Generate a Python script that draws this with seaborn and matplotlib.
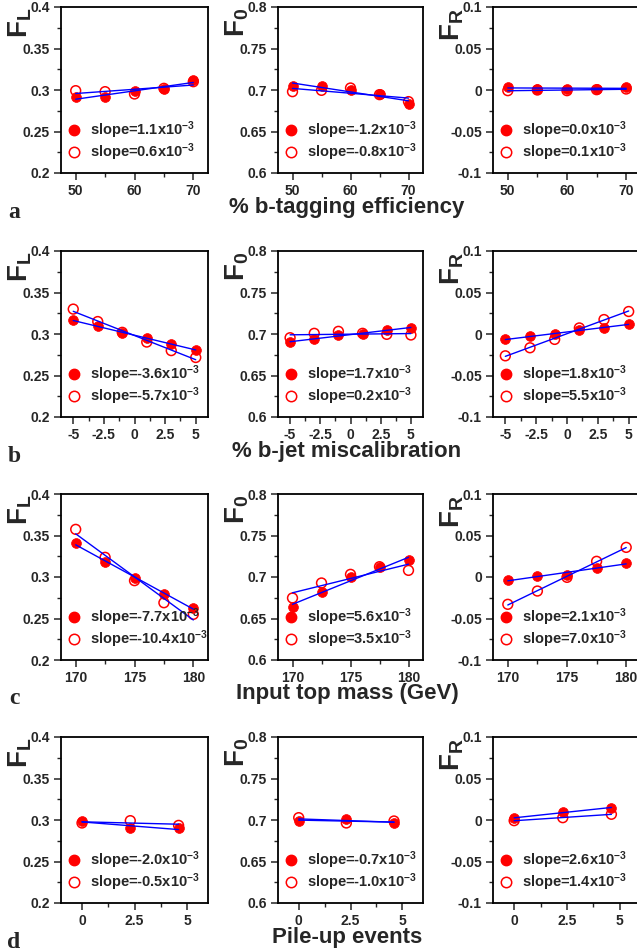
import numpy as np
import matplotlib
matplotlib.use("Agg")
import matplotlib.pyplot as plt
from matplotlib.lines import Line2D
from matplotlib.ticker import MultipleLocator, FuncFormatter
import seaborn as sns

sns.set_style("ticks")
plt.rcParams['font.family'] = ['Liberation Sans', 'DejaVu Sans']
plt.rcParams['mathtext.fontset'] = 'custom'
plt.rcParams['mathtext.rm'] = 'Liberation Sans:bold'
plt.rcParams['mathtext.bf'] = 'Liberation Sans:bold'
plt.rcParams['mathtext.it'] = 'Liberation Sans:bold'

# ---------------- data ----------------
x_a = [50, 55, 60, 65, 70]
FL_a_full = [0.2912, 0.2920, 0.2988, 0.3010, 0.3120]
FL_a_open = [0.2992, 0.2980, 0.2952, 0.3020, 0.3100]
F0_a_full = [0.7052, 0.7050, 0.6996, 0.6956, 0.6831]
F0_a_open = [0.6980, 0.6996, 0.7024, 0.6944, 0.6860]
FR_a_full = [0.0036, 0.0016, 0.0016, 0.0012, 0.0032]
FR_a_open = [-0.0008, 0.0000, -0.0008, 0.0004, 0.0012]

x_b = [-5, -3, -1, 1, 3, 5]
FL_b_full = [0.3166, 0.3093, 0.3012, 0.2951, 0.2879, 0.2810]
FL_b_open = [0.3300, 0.3150, 0.3020, 0.2903, 0.2800, 0.2717]
F0_b_full = [0.6903, 0.6940, 0.6988, 0.7000, 0.7053, 0.7073]
F0_b_open = [0.6955, 0.7008, 0.7032, 0.7008, 0.6996, 0.6988]
FR_b_full = [-0.0065, -0.0028, 0.0000, 0.0045, 0.0073, 0.0121]
FR_b_open = [-0.0263, -0.0166, -0.0065, 0.0073, 0.0174, 0.0271]

x_c = [170, 172.5, 175, 177.5, 180]
FL_c_full = [0.3406, 0.3180, 0.2992, 0.2795, 0.2630]
FL_c_open = [0.3574, 0.3237, 0.2956, 0.2690, 0.2550]
F0_c_full = [0.6643, 0.6815, 0.6996, 0.7116, 0.7200]
F0_c_open = [0.6747, 0.6928, 0.7032, 0.7124, 0.7080]
FR_c_full = [-0.0036, 0.0016, 0.0020, 0.0108, 0.0173]
FR_c_open = [-0.0329, -0.0169, -0.0004, 0.0189, 0.0357]

x_d = [0, 2.3, 4.6]
FL_d_full = [0.2992, 0.2900, 0.2900]
FL_d_open = [0.2964, 0.2992, 0.2935]
F0_d_full = [0.6988, 0.7008, 0.6964]
F0_d_open = [0.7028, 0.6964, 0.6988]
FR_d_full = [0.0020, 0.0101, 0.0145]
FR_d_open = [-0.0008, 0.0028, 0.0069]

slopes_full = [["1.1", "-1.2", "0.0"], ["-3.6", "1.7", "1.8"],
               ["-7.7", "5.6", "2.1"], ["-2.0", "-0.7", "2.6"]]
slopes_open = [["0.6", "-0.8", "0.1"], ["-5.7", "0.2", "5.5"],
               ["-10.4", "3.5", "7.0"], ["-0.5", "-1.0", "1.4"]]

row_letters = ["a", "b", "c", "d"]
row_xlabels = ["% b-tagging efficiency", "% b-jet miscalibration",
               "Input top mass (GeV)", "Pile-up events"]
ylabels = [r"$\mathbf{F}_{\mathbf{L}}$", r"$\mathbf{F}_{\mathbf{0}}$", r"$\mathbf{F}_{\mathbf{R}}$"]
ylims = [(0.2, 0.4), (0.6, 0.8), (-0.1, 0.1)]

rows = [
    (x_a, [(FL_a_full, FL_a_open), (F0_a_full, F0_a_open), (FR_a_full, FR_a_open)]),
    (x_b, [(FL_b_full, FL_b_open), (F0_b_full, F0_b_open), (FR_b_full, FR_b_open)]),
    (x_c, [(FL_c_full, FL_c_open), (F0_c_full, F0_c_open), (FR_c_full, FR_c_open)]),
    (x_d, [(FL_d_full, FL_d_open), (F0_d_full, F0_d_open), (FR_d_full, FR_d_open)]),
]
xlims = [(47.5, 72.5), (-6, 6), (168.75, 181.25), (-1, 6)]
xmajor = [10, 2.5, 5, 2.5]
xminor = [5, 1.25, 2.5, 1.25]

# ---------------- layout (pixels) ----------------
W, H = 637, 952
fig = plt.figure(figsize=(W / 100, H / 100), dpi=100)

col_left = [61, 278, 493]
col_w = [147, 145, 148]
row_top = [7, 251, 494, 737]
row_h = 166

def fmt(v, pos):
    s = "%g" % round(v, 4)
    if s == "-0":
        s = "0"
    return s

for r in range(4):
    xs, panels = rows[r]
    for c in range(3):
        l = col_left[c] / W
        b = 1 - (row_top[r] + row_h) / H
        ax = fig.add_axes([l, b, col_w[c] / W, row_h / H])
        yf, yo = panels[c]
        sns.scatterplot(x=xs, y=yf, ax=ax, s=50, color='red', edgecolor='red',
                        linewidth=0.5, zorder=3)
        sns.scatterplot(x=xs, y=yo, ax=ax, s=50, marker='o', facecolor='none',
                        edgecolor='red', linewidth=1.1, zorder=3)
        sns.regplot(x=np.array(xs), y=np.array(yf), ax=ax, scatter=False, ci=None,
                    color='blue', line_kws={'lw': 1.0, 'zorder': 4}, truncate=True)
        sns.regplot(x=np.array(xs), y=np.array(yo), ax=ax, scatter=False, ci=None,
                    color='blue', line_kws={'lw': 1.0, 'zorder': 4}, truncate=True)
        ax.set_xlim(*xlims[r])
        ax.set_ylim(*ylims[c])
        ax.set_xlabel("")
        ax.set_ylabel("")
        ax.xaxis.set_major_locator(MultipleLocator(xmajor[r]))
        ax.xaxis.set_minor_locator(MultipleLocator(xminor[r]))
        ax.yaxis.set_major_locator(MultipleLocator(0.05))
        ax.yaxis.set_minor_locator(MultipleLocator(0.025))
        ax.xaxis.set_major_formatter(FuncFormatter(fmt))
        ax.yaxis.set_major_formatter(FuncFormatter(fmt))
        for sp in ax.spines.values():
            sp.set_visible(True)
            sp.set_linewidth(1.3)
            sp.set_color('black')
        ax.tick_params(which='major', direction='out', length=5, width=1.1,
                       labelsize=10, pad=3)
        ax.tick_params(which='minor', direction='out', length=3, width=1.0)
        for t in ax.get_xticklabels() + ax.get_yticklabels():
            t.set_fontweight('bold')
        handles = [
            Line2D([], [], ls='none', marker='o', ms=7.5, mfc='red', mec='red'),
            Line2D([], [], ls='none', marker='o', ms=7.5, mfc='none', mec='red', mew=1.1),
        ]
        labels = [r"slope=%sx10$^{-3}$" % slopes_full[r][c],
                  r"slope=%sx10$^{-3}$" % slopes_open[r][c]]
        leg = ax.legend(handles, labels, loc='lower left', bbox_to_anchor=(0.04, 0.06),
                        frameon=False, handlelength=1.0, handletextpad=0.6,
                        labelspacing=0.02, borderpad=0, borderaxespad=0,
                        prop={'weight': 'bold', 'size': 10.5})
        # y label (rotated) at upper-left of each panel
        fig.text((col_left[c] - 41) / W, 1 - (row_top[r] + 1) / H, ylabels[c],
                 rotation=90, ha='center', va='top', fontsize=20, fontweight='bold')
    # row x-label
    fig.text(347 / W, 1 - (row_top[r] + row_h + 34) / H, row_xlabels[r],
             ha='center', va='center', fontsize=16, fontweight='bold')
    fig.text(14 / W, 1 - (row_top[r] + row_h + 39) / H, row_letters[r],
             ha='center', va='center', fontsize=17, fontweight='bold',
             family=['Liberation Serif', 'DejaVu Serif'])

fig.savefig("out.png", dpi=100)
